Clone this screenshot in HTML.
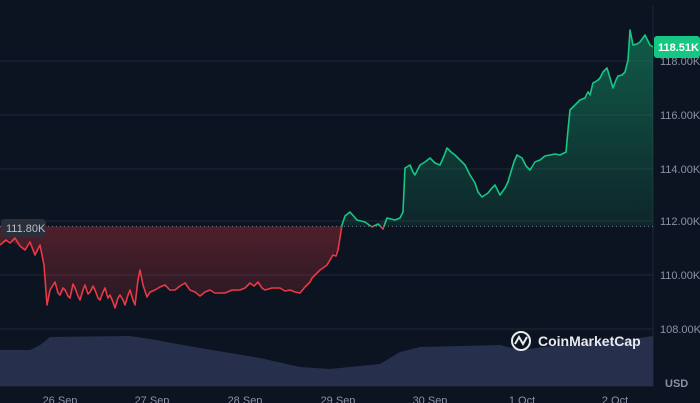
<!DOCTYPE html>
<html><head><meta charset="utf-8"><style>
html,body{margin:0;padding:0;background:#0d1421;width:700px;height:403px;overflow:hidden;font-family:"Liberation Sans",sans-serif}
</style></head><body>
<svg width="700" height="403" viewBox="0 0 700 403" xmlns="http://www.w3.org/2000/svg">
<defs>
<linearGradient id="gg" x1="0" y1="0" x2="0" y2="1"><stop offset="0" stop-color="#16c784" stop-opacity="0.4"/><stop offset="1" stop-color="#16c784" stop-opacity="0.1"/></linearGradient>
<linearGradient id="rg" x1="0" y1="0" x2="0" y2="1"><stop offset="0" stop-color="#ea3943" stop-opacity="0.3"/><stop offset="1" stop-color="#ea3943" stop-opacity="0.12"/></linearGradient>
<clipPath id="above"><rect x="0" y="0" width="653" height="226.4"/></clipPath>
<clipPath id="below"><rect x="0" y="226.4" width="653" height="200"/></clipPath>
<path id="ln" d="M0,245 L6,240 L10,243 L15,238 L20,246 L25,250 L30,242 L35,255 L40,245 L44,265 L47,305 L50,290 L55,282 L58,293 L60,295 L63,288 L65,290 L68,296 L70,298 L73,284 L75,288 L78,296 L80,300 L83,290 L85,285 L88,294 L90,292 L93,286 L95,290 L98,298 L100,300 L103,292 L105,288 L108,298 L110,295 L113,302 L115,308 L118,298 L120,295 L123,300 L125,305 L128,295 L130,290 L133,300 L135,305 L138,280 L140,270 L143,285 L147,297 L150,292 L155,290 L160,287 L165,285 L170,290 L175,290 L180,286 L185,283 L190,290 L195,292 L200,296 L205,292 L210,290 L215,293 L225,293 L232,290 L240,290 L245,288 L250,283 L254,286 L258,282 L262,288 L265,290 L272,288 L280,288 L285,291 L290,290 L295,292 L300,293 L305,287 L310,282 L312,278 L316,274 L320,270 L323,268 L327,265 L330,260 L333,255 L336,256 L338,250 L342,225 L345,216 L350,212 L357,220 L365,222 L372,227 L378,224 L383,229 L387,218 L395,220 L400,218 L403,212 L405,168 L410,165 L413,172 L415,175 L420,165 L425,162 L430,158 L435,163 L440,165 L444,156 L447,148 L451,152 L455,155 L460,160 L465,165 L470,175 L475,183 L478,192 L482,197 L488,193 L492,188 L495,185 L500,195 L505,188 L508,182 L510,175 L514,162 L517,155 L522,158 L526,166 L530,170 L535,162 L540,160 L545,156 L550,155 L555,154 L560,155 L566,152 L568,130 L570,110 L575,105 L580,100 L585,98 L588,92 L590,95 L593,83 L595,82 L598,80 L600,78 L603,72 L607,68 L610,78 L613,88 L616,80 L618,76 L622,75 L625,72 L628,60 L630,30 L633,45 L637,44 L640,42 L645,35 L650,45 L653,47"/>
</defs>
<rect width="700" height="403" fill="#0d1421"/>
<g stroke="#1e2636" stroke-width="1">
<line x1="0" y1="61" x2="653" y2="61"/><line x1="0" y1="115" x2="653" y2="115"/><line x1="0" y1="169" x2="653" y2="169"/><line x1="0" y1="221" x2="653" y2="221"/><line x1="0" y1="275" x2="653" y2="275"/><line x1="0" y1="329" x2="653" y2="329"/>
<line x1="653" y1="6" x2="653" y2="386"/><line x1="0" y1="386" x2="653" y2="386"/>
</g>
<path d="M0,350 L30,350 L40,345 L50,337 L130,336 L150,339 L200,348 L260,358 L300,367 L330,369 L380,364 L400,352 L420,347 L500,345 L520,350 L560,345 L640,338 L653,336 L653,386 L0,386Z" fill="#262f4c"/>
<path d="M0,245 L10,240 L25,250 L30,242 L35,255 L40,245 L44,265 L47,305 L50,290 L55,282 L60,295 L65,290 L70,298 L75,288 L80,300 L85,285 L90,292 L95,290 L100,300 L105,288 L110,295 L115,308 L120,295 L125,305 L130,290 L135,305 L140,270 L143,285 L147,297 L155,290 L165,285 L175,290 L185,283 L195,292 L200,296 L210,290 L225,293 L240,290 L250,283 L258,285 L265,290 L280,288 L290,290 L300,293 L305,287 L312,278 L320,270 L327,265 L333,255 L338,250 L342,226.4 L0,226.4Z" fill="url(#rg)"/>
<path d="M342,226.4 L345,216 L350,212 L357,220 L365,222 L372,226.4 L387,218 L395,220 L400,218 L403,212 L405,168 L410,165 L415,175 L420,165 L430,158 L440,165 L447,148 L455,155 L465,165 L470,175 L475,183 L482,197 L488,193 L495,185 L500,195 L505,188 L510,175 L517,155 L522,158 L530,170 L540,160 L550,155 L560,155 L566,152 L570,110 L575,105 L580,100 L585,98 L590,95 L595,82 L600,78 L603,72 L607,68 L610,78 L613,88 L618,76 L625,72 L628,60 L630,30 L633,45 L640,42 L645,35 L650,45 L653,47 L653,226.4Z" fill="url(#gg)"/>
<line x1="0" y1="226.4" x2="653" y2="226.4" stroke="#6b7488" stroke-width="1" stroke-dasharray="1,3"/>
<use href="#ln" fill="none" stroke="#ea3943" stroke-width="1.6" stroke-linejoin="round" clip-path="url(#below)"/>
<use href="#ln" fill="none" stroke="#16c784" stroke-width="1.6" stroke-linejoin="round" clip-path="url(#above)"/>
<g fill="#8a93a6" font-size="11">
<text x="660" y="65">118.00K</text><text x="660" y="119">116.00K</text><text x="660" y="173">114.00K</text><text x="660" y="225">112.00K</text><text x="660" y="279">110.00K</text><text x="660" y="333">108.00K</text>
<text x="665" y="387" font-weight="bold">USD</text>
<g text-anchor="middle"><text x="60" y="404">26 Sep</text><text x="152" y="404">27 Sep</text><text x="245" y="404">28 Sep</text><text x="338" y="404">29 Sep</text><text x="430" y="404">30 Sep</text><text x="522" y="404">1 Oct</text><text x="615" y="404">2 Oct</text></g>
</g>
<rect x="654" y="36" width="46" height="22" rx="3" fill="#16c784"/>
<text x="658" y="51" fill="#fff" font-size="11" font-weight="bold">118.51K</text>
<rect x="1" y="219" width="45" height="18" rx="4" fill="#2a2f3a"/>
<text x="6" y="232" fill="#b9bfcc" font-size="11">111.80K</text>
<circle cx="521" cy="341" r="9" fill="none" stroke="#e8eaf0" stroke-width="2"/>
<path d="M515,344 L519,337 L523,344 L527,337" fill="none" stroke="#e8eaf0" stroke-width="2"/>
<text x="538" y="346" fill="#e8eaf0" font-size="14" font-weight="bold">CoinMarketCap</text>
</svg>
</body></html>
